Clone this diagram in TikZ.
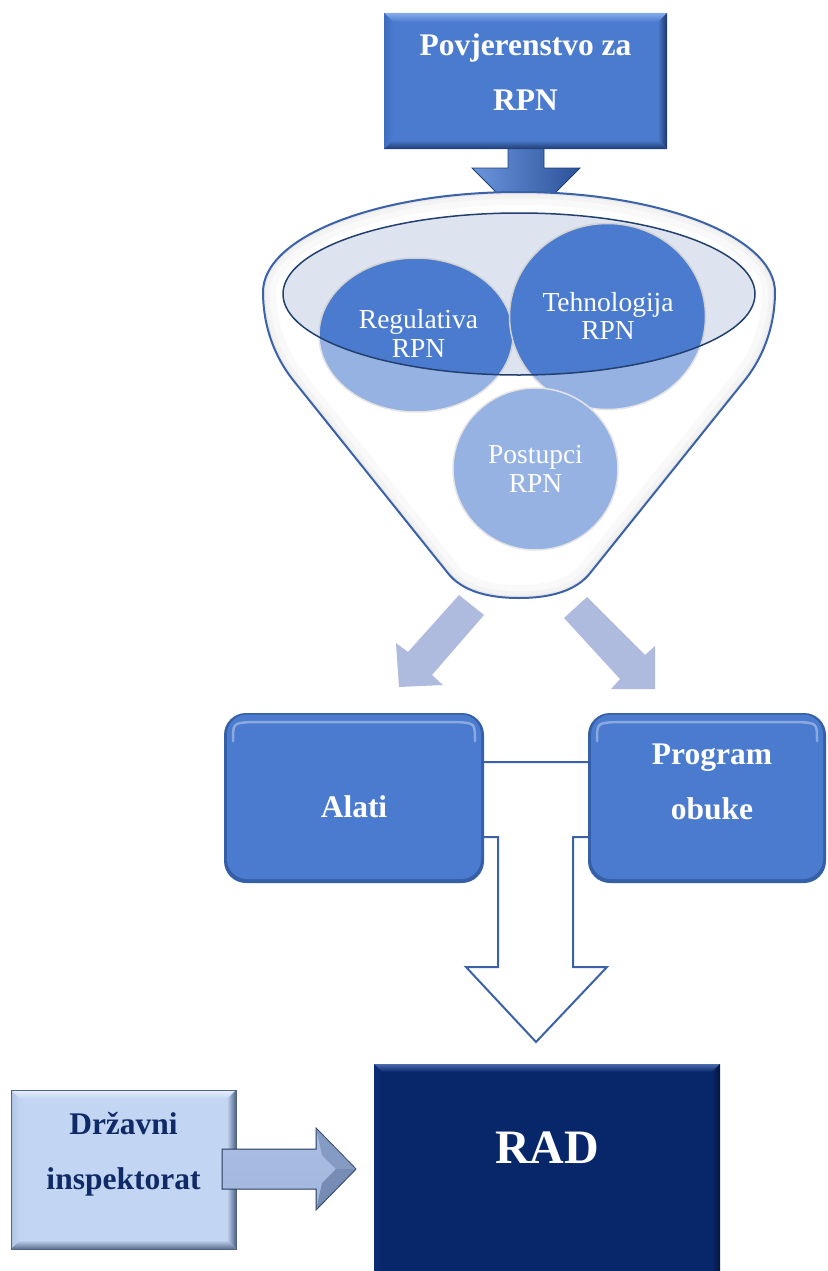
\documentclass[tikz,border=0pt]{standalone}
\usepackage{fontspec}
\setmainfont{Liberation Serif}
\definecolor{mblue}{HTML}{4A7BCF}
\definecolor{arrowc}{HTML}{AEBBDE}
\definecolor{fline}{HTML}{3B62A8}
\definecolor{ellc}{HTML}{DDE3EF}
\definecolor{ellline}{HTML}{22406F}
\definecolor{paletext}{HTML}{0F2A66}
\definecolor{arrL}{HTML}{6A95DD}
\definecolor{arrR}{HTML}{2C5299}
\definecolor{parT}{HTML}{A9BEE2}
\definecolor{parM}{HTML}{E0EAF9}
\definecolor{parB}{HTML}{A2B7DC}
\definecolor{parD}{HTML}{263A5E}
\definecolor{facA}{HTML}{6F86B0}
\definecolor{facB}{HTML}{5A6F98}
\definecolor{rbord}{HTML}{3560A8}
% bevel colour sets
\definecolor{bmain}{HTML}{4A7BCF}\definecolor{btop}{HTML}{86ABE8}\definecolor{bleft}{HTML}{3F6DBE}\definecolor{bright}{HTML}{1B3563}\definecolor{bbot}{HTML}{1F3C70}
\definecolor{pmain}{HTML}{C2D5F2}\definecolor{ptop}{HTML}{E8EFFB}\definecolor{pleft}{HTML}{AFC3E6}\definecolor{pright}{HTML}{4F6385}\definecolor{pbot}{HTML}{5A6E90}
\definecolor{nmain}{HTML}{08266A}\definecolor{ntop}{HTML}{4A6BAD}\definecolor{nleft}{HTML}{0B2D78}\definecolor{nright}{HTML}{03163F}\definecolor{nbot}{HTML}{03163F}
\newcommand\bevrect[6]{%
  \fill[#6main] (#1,#2) rectangle (#3,#4);
  \shade[top color=#6top,bottom color=#6main] (#1,#2) -- (#3,#2) -- (#3-#5,#2+#5) -- (#1+#5,#2+#5) -- cycle;
  \shade[left color=#6left,right color=#6main] (#1,#2) -- (#1+#5,#2+#5) -- (#1+#5,#4-#5) -- (#1,#4) -- cycle;
  \shade[left color=#6main,right color=#6right] (#3,#2) -- (#3-#5,#2+#5) -- (#3-#5,#4-#5) -- (#3,#4) -- cycle;
  \shade[top color=#6main,bottom color=#6bot] (#1,#4) -- (#1+#5,#4-#5) -- (#3-#5,#4-#5) -- (#3,#4) -- cycle;
  \fill[#6main] (#1+#5,#2+#5) rectangle (#3-#5,#4-#5);
}
\newcommand\roundbox[4]{%
  \fill[fill=rbord,rounded corners=22pt] (#1,#2) rectangle (#3,#4);
  \fill[fill=mblue,rounded corners=20pt] (#1+3,#2+1.5) rectangle (#3-3,#4-4);
  \draw[white,opacity=.35,line width=2.5pt,line cap=round] (#1+9,#2+28) .. controls (#1+9,#2+10) .. (#1+28,#2+9) -- (#3-28,#2+9) .. controls (#3-9,#2+10) .. (#3-9,#2+28);
}
\def\funnelpath{(263,292) .. controls (263,320) and (271,352) .. (293,380) -- (447,572) .. controls (462,592) and (490,598) .. (519,598) .. controls (548,598) and (576,592) .. (591,572) -- (745,380) .. controls (767,352) and (775,320) .. (775,292) .. controls (775,236.8) and (660.6,192) .. (519,192) .. controls (377.4,192) and (263,236.8) .. (263,292) -- cycle}
\tikzset{
  lblB/.style={text=white,font=\bfseries\fontsize{31.5}{55}\selectfont,align=center,inner sep=0pt},
  lblC/.style={text=white,font=\fontsize{27.5}{28.5}\selectfont,align=center,inner sep=0pt},
  blockarrow/.style={fill=arrowc,draw=none},
}
\begin{document}
\begin{tikzpicture}[x=1pt,y=-1pt]
\useasboundingbox (0,0) rectangle (827,1271);
\clip (0,0) rectangle (827,1271);

% ---------- top arrow and box ----------
\shade[left color=arrL,middle color=mblue,right color=arrR,draw=ellline,line width=0.8pt]
  (508,140) -- (544,140) -- (544,168) -- (580,168) -- (526,222) -- (472,168) -- (508,168) -- cycle;
\bevrect{384}{13}{667}{149}{9}{b}

% ---------- funnel ----------
\fill[white] \funnelpath;
\begin{scope}
  \clip \funnelpath;
  \draw[gray!8,line width=26pt] \funnelpath;
  \draw[gray!16,line width=13pt] \funnelpath;
  \draw[gray!28,line width=5pt] \funnelpath;
\end{scope}
\fill[ellc] (519,294) ellipse [x radius=236, y radius=81];
% circles
\fill[mblue] (416,335) ellipse [x radius=97, y radius=77];
\draw[gray!35,line width=1.5pt] (416,335) ellipse [x radius=97, y radius=77];
\fill[mblue] (607.5,316.5) ellipse [x radius=98, y radius=93];
\draw[gray!35,line width=1.5pt] (607.5,316.5) ellipse [x radius=98, y radius=93];
\fill[mblue] (535.5,469) ellipse [x radius=82.5, y radius=81];
\draw[gray!35,line width=1.5pt] (535.5,469) ellipse [x radius=82.5, y radius=81];
% translucent front of the funnel
\fill[white,opacity=0.42,even odd rule] \funnelpath (519,294) ellipse [x radius=236, y radius=81];
\draw[ellline,line width=1.5pt] (519,294) ellipse [x radius=236, y radius=81];
\draw[fline,line width=2pt] \funnelpath;

% ---------- diagonal arrows ----------
\fill[blockarrow] (459,595) -- (484,615) -- (432,675) -- (443,685) -- (399,687) -- (396,643) -- (408,652) -- cycle;
\fill[blockarrow] (587,597) -- (645,655) -- (655,646) -- (655,689) -- (611,689) -- (620,679) -- (564,618) -- cycle;

% ---------- hollow arrow ----------
\draw[fline,line width=2pt,fill=white] (470,762) -- (600,762) -- (600,837) -- (573,837) -- (573,967) -- (607,967) -- (536,1042) -- (466,967) -- (498,967) -- (498,837) -- (470,837) -- cycle;

% ---------- boxes ----------
\roundbox{224}{713}{484}{883}
\roundbox{588}{713}{826}{883}

\bevrect{11}{1090}{236}{1249}{9}{p}
\draw[pright,line width=0.6pt] (11,1090) rectangle (236,1249);
\shade[top color=parT,middle color=parM,bottom color=parB,draw=parD,line width=1pt]
  (222,1149) -- (316,1149) -- (316,1128) -- (356,1169) -- (316,1210) -- (316,1189) -- (222,1189) -- cycle;
\fill[facA,opacity=.6] (316,1128) -- (356,1169) -- (336,1169) -- (322,1155) -- cycle;
\fill[facB,opacity=.6] (316,1210) -- (356,1169) -- (336,1169) -- (322,1183) -- cycle;

\bevrect{374}{1064}{720}{1290}{8}{n}

% ---------- texts ----------
\node[lblB] (pov) at (525.5,71.6) {Povjerenstvo za\\RPN};
\node[lblC] (reg) at (418.5,333.5) {Regulativa\\RPN};
\node[lblC] (teh) at (608,316) {Tehnologija\\RPN};
\node[lblC] (pos) at (535.5,469) {Postupci\\RPN};
\node[lblB,anchor=base] (alati) at (354,817.5) {Alati};
\node[lblB] (prog) at (712,782) {Program\\obuke};
\node[lblB,text=paletext] (drz) at (123.5,1154) {Državni\\inspektorat};
\node[text=white,font=\bfseries\fontsize{48}{55}\selectfont,inner sep=0pt,anchor=base] (rad) at (547,1163) {RAD};
\end{tikzpicture}
\end{document}
